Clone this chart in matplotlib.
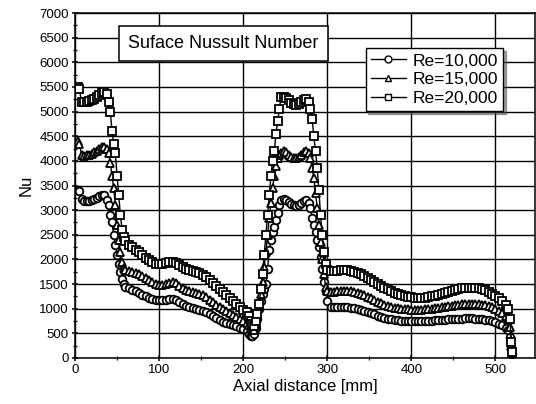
import numpy as np
import matplotlib.pyplot as plt
from matplotlib.ticker import MultipleLocator

plt.rcParams['font.family'] = ['Liberation Sans', 'DejaVu Sans']

# axial positions (mm), shared by all three runs
x_mm = ([3, 5, 8, 11, 14, 17, 20, 23, 26, 29, 32, 35]
        + [38, 40, 42, 44, 46, 48, 50, 52, 54, 56, 58, 60]
        + [64, 68, 72, 76, 80, 84, 88, 92, 96, 100, 104, 108, 112, 116, 120, 124,
           128, 132, 136, 140, 144, 148, 152, 156, 160, 164, 168, 172, 176, 180,
           184, 188, 192, 196, 200, 204, 207]
        + [209, 211, 213, 215, 217, 219, 221, 223, 225, 227, 229, 231, 233, 235,
           237, 239, 241, 243, 245]
        + [248, 251, 254, 257, 260, 263, 266, 269, 272, 275, 278]
        + [280, 282, 284, 286, 288, 290, 292, 294, 296, 298, 300]
        + [304, 308, 312, 316, 320, 324, 328, 332, 336, 340, 344, 348, 352, 356,
           360, 364, 368, 372, 376, 380, 384, 388, 392, 396, 400, 404, 408, 412,
           416, 420, 424, 428, 432, 436, 440, 444, 448, 452, 456, 460, 464, 468,
           472, 476, 480, 484, 488, 492, 496, 500, 504, 508, 512]
        + [515, 517, 519, 520])

nu_10k = ([3400, 3380, 3220, 3180, 3180, 3190, 3200, 3220, 3250, 3280, 3300, 3300]
          + [3200, 3100, 2900, 2750, 2500, 2300, 2100, 1900, 1750, 1600, 1500, 1450]
          + [1420, 1380, 1350, 1310, 1280, 1250, 1220, 1200, 1180, 1170, 1170, 1180,
             1190, 1190, 1170, 1130, 1090, 1060, 1040, 1020, 1000, 980, 960, 930,
             890, 850, 810, 780, 740, 710, 700, 670, 640, 610, 580, 540, 490]
          + [450, 440, 480, 600, 800, 1000, 1150, 1300, 1400, 1500, 1800, 2200,
             2400, 2550, 2650, 2800, 2950, 3100, 3200]
          + [3220, 3200, 3170, 3130, 3100, 3090, 3100, 3140, 3180, 3200, 3150]
          + [3050, 2850, 2700, 2550, 2400, 2250, 2050, 1800, 1550, 1350, 1150]
          + [1040, 1030, 1030, 1030, 1030, 1030, 1020, 1010, 1000, 980, 960, 940,
             910, 890, 860, 840, 820, 800, 790, 780, 770, 760, 755, 750, 750, 750,
             750, 750, 750, 755, 760, 765, 770, 775, 780, 785, 790, 795, 800, 800,
             805, 805, 805, 800, 795, 790, 780, 770, 750, 730, 700, 660, 610]
          + [560, 420, 200, 80])

nu_15k = ([4400, 4350, 4120, 4100, 4110, 4120, 4140, 4170, 4200, 4240, 4280, 4290]
          + [4250, 4150, 3950, 3700, 3450, 3100, 2700, 2400, 2150, 1950, 1830, 1790]
          + [1760, 1740, 1720, 1700, 1660, 1620, 1580, 1540, 1510, 1490, 1490, 1510,
             1530, 1540, 1520, 1460, 1420, 1380, 1350, 1330, 1315, 1300, 1270, 1230,
             1180, 1130, 1080, 1030, 990, 950, 910, 870, 830, 790, 750, 710, 660]
          + [600, 560, 560, 680, 850, 1050, 1300, 1550, 1850, 2150, 2500, 2850,
             3150, 3450, 3700, 3900, 4050, 4120, 4150]
          + [4200, 4170, 4120, 4080, 4050, 4050, 4070, 4120, 4180, 4200, 4150]
          + [4050, 3850, 3650, 3350, 3050, 2700, 2350, 2000, 1700, 1450, 1350]
          + [1330, 1340, 1350, 1360, 1360, 1360, 1350, 1340, 1320, 1300, 1270, 1240,
             1210, 1170, 1140, 1110, 1080, 1060, 1040, 1020, 1010, 1000, 990, 985,
             980, 980, 980, 980, 985, 990, 1000, 1010, 1020, 1030, 1040, 1050, 1060,
             1070, 1080, 1090, 1100, 1100, 1100, 1100, 1090, 1080, 1070, 1050, 1030,
             1000, 960, 910, 850]
          + [780, 620, 250, 100])

nu_20k = ([5500, 5450, 5200, 5190, 5200, 5220, 5240, 5260, 5290, 5330, 5380, 5400]
          + [5350, 5200, 5000, 4600, 4350, 4150, 3700, 3300, 2900, 2600, 2450, 2380]
          + [2300, 2250, 2200, 2150, 2080, 2030, 1980, 1940, 1910, 1900, 1910, 1930,
             1950, 1950, 1930, 1890, 1840, 1800, 1780, 1760, 1740, 1720, 1690, 1640,
             1580, 1520, 1460, 1400, 1340, 1280, 1220, 1160, 1100, 1040, 980, 940, 850]
          + [760, 700, 650, 750, 900, 1100, 1400, 1700, 2100, 2500, 2900, 3300,
             3700, 4000, 4200, 4550, 4800, 5050, 5300]
          + [5300, 5280, 5230, 5180, 5150, 5140, 5160, 5200, 5240, 5250, 5200]
          + [5050, 4850, 4500, 4200, 3850, 3400, 2900, 2500, 2150, 1900, 1780]
          + [1760, 1760, 1770, 1780, 1780, 1780, 1770, 1750, 1730, 1700, 1670, 1630,
             1590, 1550, 1510, 1470, 1430, 1390, 1350, 1320, 1290, 1270, 1250, 1240,
             1230, 1220, 1220, 1220, 1225, 1235, 1250, 1265, 1285, 1305, 1325, 1345,
             1365, 1385, 1400, 1415, 1425, 1430, 1430, 1425, 1415, 1400, 1375, 1345,
             1305, 1265, 1215, 1150, 1080]
          + [1000, 800, 330, 120])

labels = ['Re=10,000', 'Re=15,000', 'Re=20,000']
markers = ['o', '^', 's']

fig = plt.figure(figsize=(5.36, 4.04), dpi=100)
ax = fig.add_axes([75 / 536, 46 / 404, 460 / 536, 345 / 404])

for nu, lab, mk in zip([nu_10k, nu_15k, nu_20k], labels, markers):
    ax.plot(x_mm, nu, '-', color='black', lw=1.0, marker=mk, ms=5.5,
            mfc='white', mec='black', mew=1.3, label=lab)

ax.set_xlim(0, 547)
ax.set_ylim(0, 7000)
ax.xaxis.set_major_locator(MultipleLocator(100))
ax.xaxis.set_minor_locator(MultipleLocator(50))
ax.yaxis.set_major_locator(MultipleLocator(500))
ax.yaxis.set_minor_locator(MultipleLocator(250))
ax.grid(which='major', color='black', lw=1.0)
ax.set_axisbelow(True)
ax.tick_params(which='major', direction='inout', length=5, width=1.1,
               labelsize=9.5, pad=2)
ax.tick_params(which='minor', direction='inout', length=3, width=0.9)
for s in ax.spines.values():
    s.set_linewidth(1.1)

ax.set_xlabel('Axial distance [mm]', fontsize=12, labelpad=2)
ax.set_ylabel('Nu', fontsize=12, labelpad=4)

ax.text(0.323, 0.912, 'Suface Nussult Number', transform=ax.transAxes,
        fontsize=13, ha='center', va='center',
        bbox=dict(boxstyle='square,pad=0.5', fc='white', ec='black', lw=1.1))

leg = ax.legend(loc='upper left', bbox_to_anchor=(0.632, 0.898), fontsize=12.5,
                frameon=True, fancybox=False, shadow=True, edgecolor='black',
                borderpad=0.3, labelspacing=0.2, handlelength=2.0,
                handletextpad=0.4, borderaxespad=0)
leg.get_frame().set_linewidth(1.0)
for h in leg.legend_handles:
    h.set_markersize(5)
    h.set_markeredgewidth(1.0)

fig.savefig('out.png', dpi=100)
